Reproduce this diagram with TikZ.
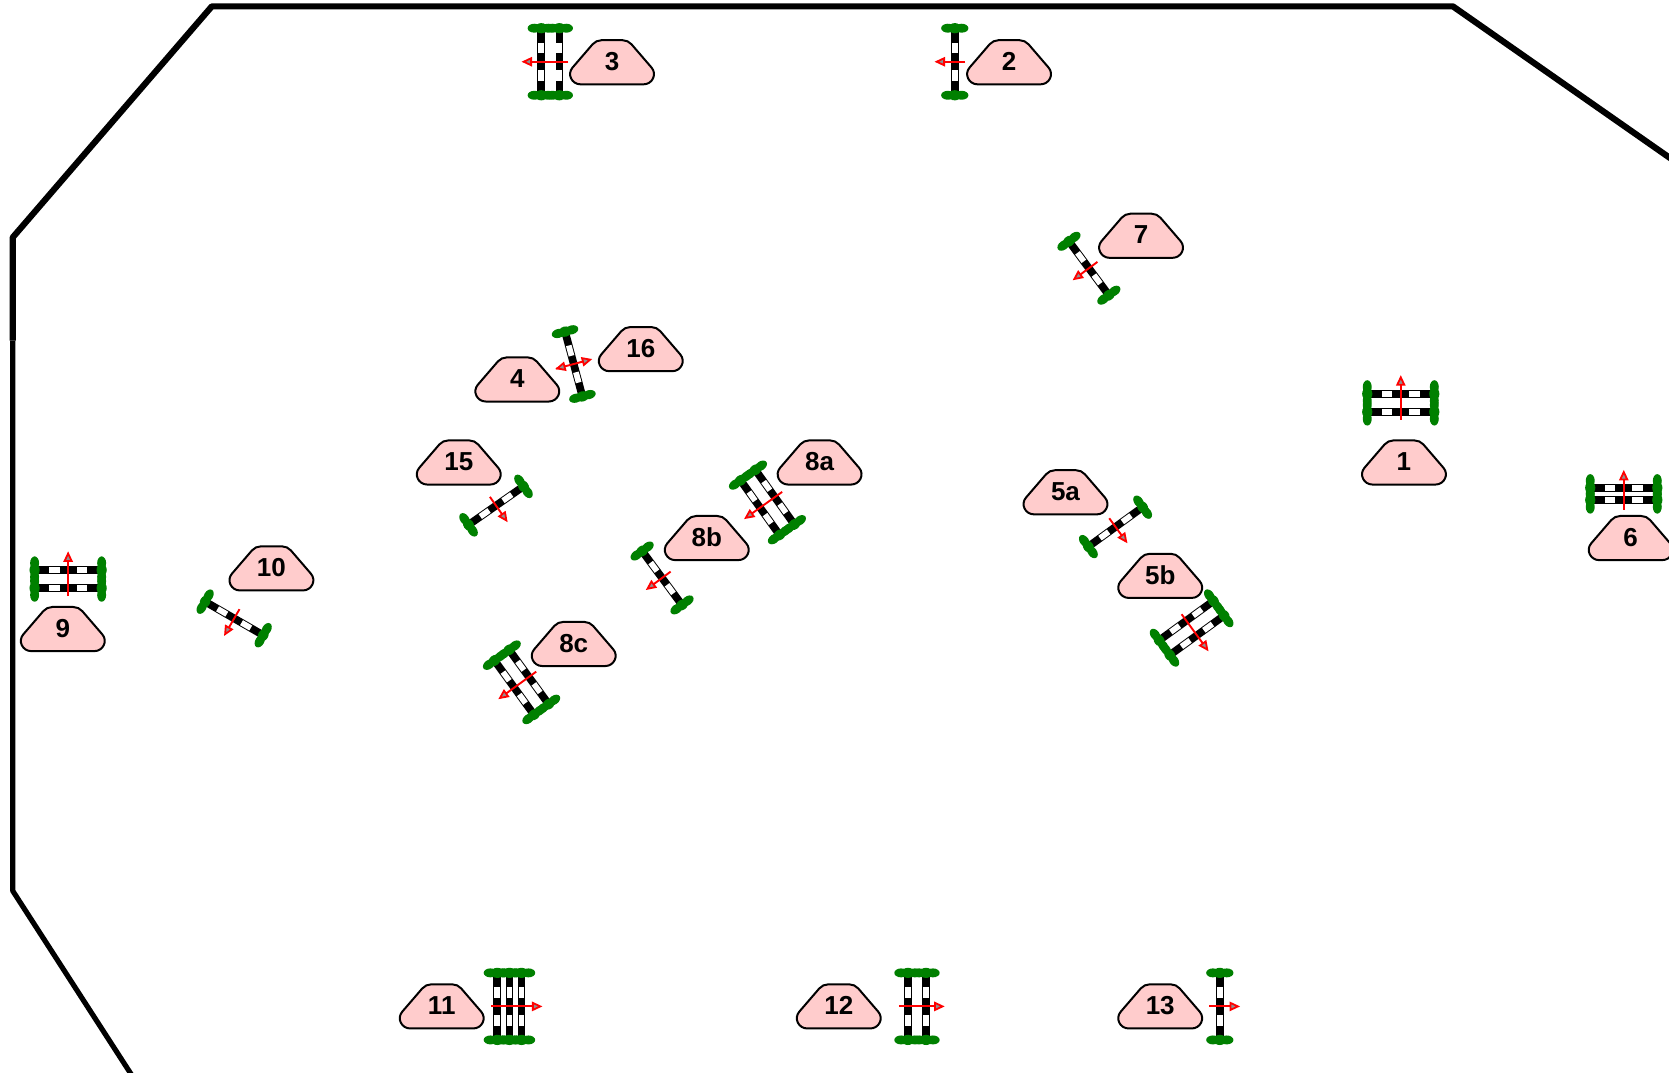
\documentclass[tikz,border=0pt]{standalone}
\usepackage{fontspec}
\setmainfont{Liberation Sans}
\definecolor{lblfill}{HTML}{FFCCCC}
\definecolor{hedge}{HTML}{008000}
\definecolor{tipgray}{HTML}{909090}
\tikzset{
  wallthick/.style={line width=6.2pt,line join=round,draw=black},
  wallthin/.style={line width=5.2pt,line join=round,draw=black},
  lblshape/.style={draw=black,line width=2pt,fill=lblfill},
  lbltext/.style={inner sep=0pt,font=\fontsize{26}{26}\selectfont\bfseries},
  barblack/.style={fill=black,draw=none},
  barwhite/.style={fill=white,draw=none},
  hedgeblob/.style={fill=hedge,draw=none},
  arrowline/.style={draw=red,line width=1.9pt},
  arrowtip/.style={draw=red,fill=tipgray,line width=1.8pt,line join=miter},
}
% #1 cx, #2 cy, #3 rotation, #4 list of bar offsets, #5 back, #6 tip, #7 double (1) or single (0)
\newcommand{\gatebar}[7]{%
\begin{scope}[shift={(#1,#2)},rotate=#3]
  \foreach \o in {#4}{
    \fill[barblack] (\o-3.6,-29) rectangle (\o+3.6,29);
    \fill[barwhite] (\o-2.7,-18) rectangle (\o+2.7,-8);
    \fill[barwhite] (\o-2.7,8) rectangle (\o+2.7,18);
    \foreach \s in {-31.5,31.5}{
      \fill[hedgeblob] (\o-6.5,\s) ellipse [x radius=6.3,y radius=4.2];
      \fill[hedgeblob] (\o+6.5,\s) ellipse [x radius=6.3,y radius=4.2];
      \fill[hedgeblob] (\o,\s) ellipse [x radius=6,y radius=4.8];
    }
  }
  \draw[arrowline] (-#5,0) -- (#6-6,0);
  \filldraw[arrowtip] (#6-1,0) -- (#6-8,3.3) -- (#6-8,-3.3) -- cycle;
  \ifnum#7=1
    \filldraw[arrowtip] (-#5+1,0) -- (-#5+8,3.3) -- (-#5+8,-3.3) -- cycle;
  \fi
\end{scope}}
% #1 name, #2 x, #3 y, #4 text
\newcommand{\lblbox}[4]{%
  \begin{scope}[shift={(#2,#3)}]
  \path[lblshape,xscale=.985,yscale=.96]
    (-30,21.6) .. controls (-38.49,21.6) and (-43.12,11.67) .. (-37.66,5.17)
    -- (-18.54,-17.62) .. controls (-16.45,-20.11) and (-13.25,-21.6) .. (-10,-21.6)
    -- (10,-21.6) .. controls (13.25,-21.6) and (16.45,-20.11) .. (18.54,-17.62)
    -- (37.66,5.17) .. controls (43.12,11.67) and (38.49,21.6) .. (30,21.6)
    -- cycle;
  \node[lbltext] (#1) at (0,-0.8) {#4};
  \end{scope}}
\begin{document}
\begin{tikzpicture}[x=1.0644pt,y=-1.0644pt]
\useasboundingbox (0,0) rectangle (1568,1008);
\clip (0,0) rectangle (1568,1008);
\fill[white] (0,0) rectangle (1568,1008);
\draw[wallthin] (125,1012) -- (12,837) -- (12,320);
\draw[wallthick] (12,320) -- (12,223) -- (199,6) -- (1365,6) -- (1574,152);

\gatebar{517}{58}{180}{-8.5,8.5}{17}{26}{0}
\gatebar{897}{58}{180}{0}{10}{18}{0}
\gatebar{1023}{252}{216.5}{0}{10}{18}{0}
\gatebar{539}{342}{15}{0}{17}{17}{1}
\gatebar{466}{475}{-55}{0}{10}{18}{0}
\gatebar{721}{472}{215.5}{-8.5,8.5}{17}{26}{0}
\gatebar{622}{543}{216.5}{0}{10}{18}{0}
\gatebar{490}{641}{216}{-8.5,8.5}{17}{26}{0}
\gatebar{1048}{495}{-54}{0}{10}{18}{0}
\gatebar{1119.5}{590}{-54}{-8.5,8.5}{16}{26}{0}
\gatebar{220}{581}{240}{0}{10}{18}{0}
\gatebar{1316}{378.5}{90}{-8.5,8.5}{16}{25}{0}
\gatebar{1525.5}{464}{90}{-5.75,5.75}{15}{21.5}{0}
\gatebar{64}{544}{90}{-8.5,8.5}{16}{25}{0}
\gatebar{478.6}{945.5}{0}{-11.4,0,11.4}{17.5}{30}{0}
\gatebar{861.5}{945.5}{0}{-8.5,8.5}{17}{25}{0}
\gatebar{1146}{945.5}{0}{0}{10}{18}{0}

\lblbox{l3}{575}{58.5}{3}
\lblbox{l2}{948}{58.5}{2}
\lblbox{l7}{1072}{221.5}{7}
\lblbox{l16}{602}{328}{16}
\lblbox{l4}{486}{356.5}{4}
\lblbox{l15}{431}{434.5}{15}
\lblbox{l8a}{770}{434.5}{8a}
\lblbox{l8b}{664}{505.5}{8b}
\lblbox{l1}{1319}{434.5}{1}
\lblbox{l6}{1532}{505.5}{6}
\lblbox{l5a}{1001}{462.5}{5a}
\lblbox{l5b}{1090}{541}{5b}
\lblbox{l10}{255}{534}{10}
\lblbox{l9}{59}{591}{9}
\lblbox{l8c}{539}{605}{8c}
\lblbox{l11}{415}{945.5}{11}
\lblbox{l12}{788}{945.5}{12}
\lblbox{l13}{1090}{945.5}{13}
\end{tikzpicture}
\end{document}
